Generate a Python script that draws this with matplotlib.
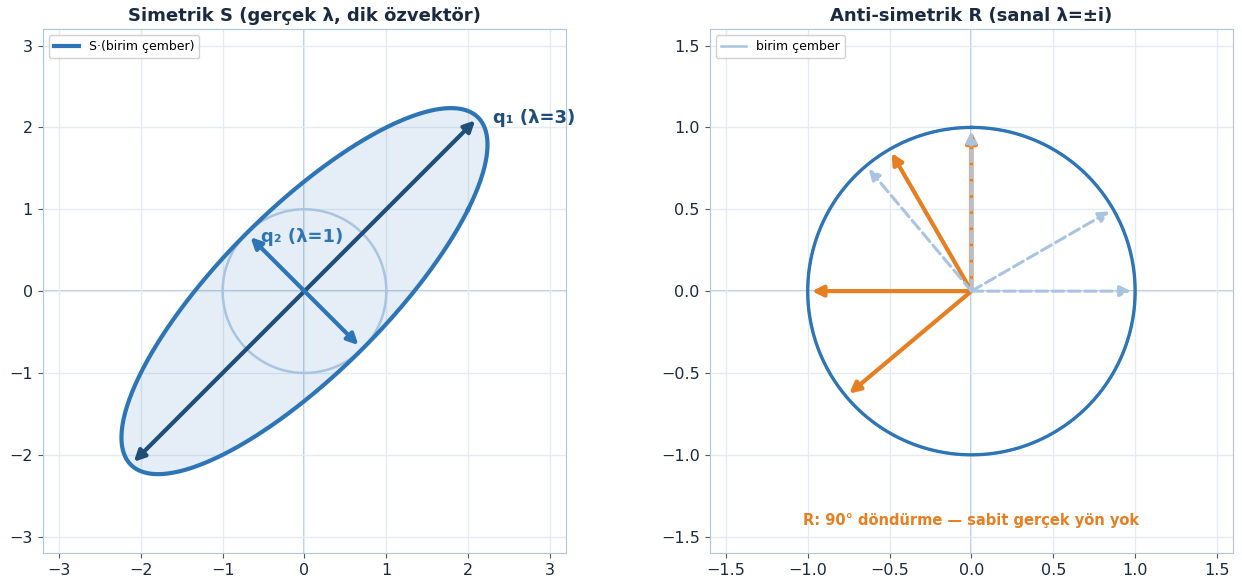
import numpy as np
import matplotlib
matplotlib.use('Agg')
import matplotlib.pyplot as plt

# Matrices and vectors
S = np.array([[2.0, 1.0], [1.0, 2.0]])
R = np.array([[0.0, -1.0], [1.0, 0.0]])
lam_S = [3, 1]
q1 = np.array([1.0, 1.0]) / np.sqrt(2)
q2 = np.array([-1.0, 1.0]) / np.sqrt(2)
test_angles_deg = [0, 30, 90, 130]

NAVY = "#1a2a40"
BLUE = "#2e75b6"
DARK = "#1f4e79"
LIGHT = "#a9c4e0"
ORANGE = "#e67e22"
SPINE = "#b0c6dc"
GRID = "#e4ebf3"

plt.rcParams['font.family'] = ['DejaVu Sans']

theta = np.linspace(0, 2 * np.pi, 400)
circle = np.vstack([np.cos(theta), np.sin(theta)])

fig = plt.figure(figsize=(12.42, 5.84), dpi=100)
ax1 = fig.add_axes([0.033, 0.053, 0.4243, 0.897])
ax2 = fig.add_axes([0.570, 0.053, 0.4243, 0.897])


def style(ax, lim, ticks):
    ax.set_xlim(-lim, lim)
    ax.set_ylim(-lim, lim)
    ax.set_aspect('equal')
    ax.set_xticks(ticks)
    ax.set_yticks(ticks)
    ax.grid(True, color=GRID, linewidth=1, zorder=0)
    ax.axhline(0, color=SPINE, linewidth=1.3, zorder=1)
    ax.axvline(0, color=SPINE, linewidth=1.3, zorder=1)
    for sp in ax.spines.values():
        sp.set_color(SPINE)
    ax.tick_params(colors=NAVY, labelsize=11.5, color="#555555")


def arrow(ax, start, end, color, lw, ls='-', both=False, z=3, shrink=2):
    style_ = '<|-|>' if both else '-|>'
    ax.annotate('', xy=end, xytext=start,
                arrowprops=dict(arrowstyle=style_, color=color, lw=lw, ls=ls,
                                mutation_scale=16, shrinkA=0 if not both else shrink,
                                shrinkB=shrink),
                zorder=z)


# Left: symmetric S
style(ax1, 3.2, np.arange(-3, 4, 1))
ell = S @ circle
ax1.fill(ell[0], ell[1], color=BLUE, alpha=0.12, zorder=2)
ax1.plot(ell[0], ell[1], color=BLUE, lw=3, label="S·(birim çember)", zorder=3)
ax1.plot(circle[0], circle[1], color=LIGHT, lw=1.8, zorder=2)
arrow(ax1, -lam_S[0] * q1, lam_S[0] * q1, DARK, 3, both=True, z=4, shrink=3)
arrow(ax1, (0, 0), lam_S[1] * q2, BLUE, 3, z=4, shrink=4)
arrow(ax1, (0, 0), -lam_S[1] * q2, BLUE, 3, z=4, shrink=4)
ax1.text(2.3, 2.05, "q₁ (λ=3)", color=DARK, fontsize=13, fontweight='bold')
ax1.text(-0.53, 0.6, "q₂ (λ=1)", color=BLUE, fontsize=13, fontweight='bold')
ax1.set_title("Simetrik S (gerçek λ, dik özvektör)", fontsize=13,
              fontweight='bold', color=NAVY)
ax1.legend(loc='upper left', fontsize=9, framealpha=0.9)

# Right: anti-symmetric R
style(ax2, 1.6, np.arange(-1.5, 1.6, 0.5))
ax2.plot(circle[0], circle[1], color=LIGHT, lw=1.8, label="birim çember", zorder=2)
rc = R @ circle
ax2.plot(rc[0], rc[1], color=BLUE, lw=2.4, zorder=2)
for a in test_angles_deg:
    v = np.array([np.cos(np.radians(a)), np.sin(np.radians(a))])
    arrow(ax2, (0, 0), R @ v, ORANGE, 3, z=3, shrink=3)
for a in test_angles_deg:
    v = np.array([np.cos(np.radians(a)), np.sin(np.radians(a))])
    arrow(ax2, (0, 0), v, LIGHT, 2.2, ls='--', z=4, shrink=3)
ax2.text(0, -1.4, "R: 90° döndürme — sabit gerçek yön yok", color=ORANGE,
         fontsize=10.5, fontweight='bold', ha='center', va='center')
ax2.set_title("Anti-simetrik R (sanal λ=±i)", fontsize=13,
              fontweight='bold', color=NAVY)
ax2.legend(loc='upper left', fontsize=9, framealpha=0.9)

fig.savefig("out.png", dpi=100)
